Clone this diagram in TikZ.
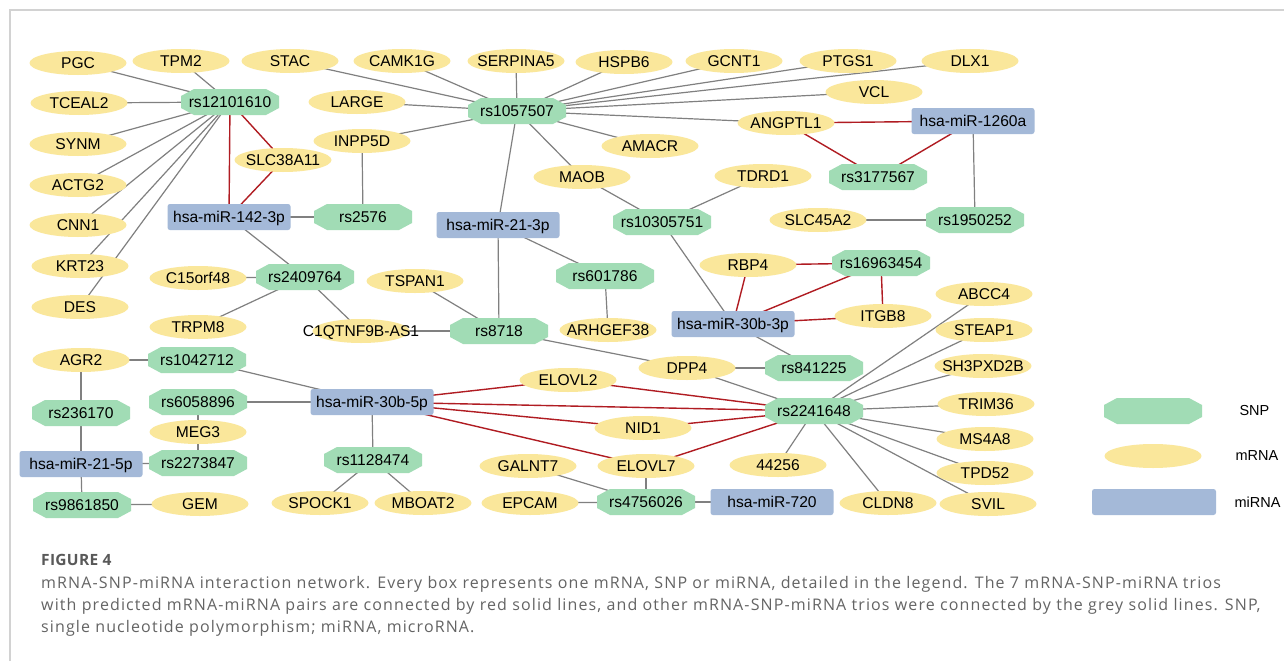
\documentclass[tikz,border=0pt]{standalone}
\usepackage{fontspec}
\setmainfont{Liberation Sans}
\newfontfamily\capfont[LetterSpace=7]{Open Sans}
\newfontfamily\figfont[LetterSpace=2]{Open Sans}
\usetikzlibrary{shapes.geometric,backgrounds}
\definecolor{mrnacol}{RGB}{250,231,155}
\definecolor{snpcol}{RGB}{161,220,181}
\definecolor{mircol}{RGB}{164,185,216}
\definecolor{greyline}{RGB}{128,128,128}
\definecolor{redline}{RGB}{176,28,34}
\definecolor{captext}{RGB}{100,100,100}
\definecolor{framecol}{RGB}{210,210,210}
\tikzset{
  lbl/.style={font=\fontsize{15.6}{18}\selectfont, text height=11pt, text depth=0pt},
  mrna/.style={lbl, ellipse, fill=mrnacol, minimum width=97pt, minimum height=24pt, inner xsep=-40pt, inner ysep=-4pt},
  snp/.style={lbl, rectangle, minimum width=98pt, minimum height=26pt, inner xsep=-40pt, inner ysep=-4pt,
    path picture={\fill[snpcol]
      ([xshift=13pt]path picture bounding box.north west) --
      ([xshift=-13pt]path picture bounding box.north east) --
      ([yshift=-7pt]path picture bounding box.north east) --
      ([yshift=7pt]path picture bounding box.south east) --
      ([xshift=-13pt]path picture bounding box.south east) --
      ([xshift=13pt]path picture bounding box.south west) --
      ([yshift=7pt]path picture bounding box.south west) --
      ([yshift=-7pt]path picture bounding box.north west) -- cycle;}},
  mirna/.style={lbl, rectangle, rounded corners=2.5pt, fill=mircol, minimum width=123pt, minimum height=26pt, inner xsep=-40pt, inner ysep=-4pt},
  gl/.style={draw=greyline, line width=1.2pt},
  rl/.style={draw=redline, line width=1.4pt},
  legtxt/.style={anchor=west, font=\fontsize{14.5}{17}\selectfont},
  captxt/.style={anchor=base west, inner sep=0pt, text=captext, font=\capfont\fontsize{16}{18}\selectfont}
}
\begin{document}
\begin{tikzpicture}[x=1pt,y=-1pt]
\useasboundingbox (0,0) rectangle (1284,661);
% mRNA nodes
\node[mrna] (PGC) at (78,63) {PGC};
\node[mrna] (TPM2) at (181,61) {TPM2};
\node[mrna] (STAC) at (290,61) {STAC};
\node[mrna] (CAMK1G) at (402,61) {CAMK1G};
\node[mrna] (SERPINA5) at (516,61) {SERPINA5};
\node[mrna] (HSPB6) at (624,62) {HSPB6};
\node[mrna] (GCNT1) at (734,61) {GCNT1};
\node[mrna] (PTGS1) at (848,61) {PTGS1};
\node[mrna] (DLX1) at (970,61) {DLX1};
\node[mrna] (VCL) at (874,92) {VCL};
\node[mrna] (TCEAL2) at (79,103) {TCEAL2};
\node[mrna] (SYNM) at (78,144) {SYNM};
\node[mrna] (ACTG2) at (78,185) {ACTG2};
\node[mrna] (CNN1) at (78,225) {CNN1};
\node[mrna] (KRT23) at (80,266) {KRT23};
\node[mrna] (DES) at (80,307) {DES};
\node[mrna] (LARGE) at (357,102) {LARGE};
\node[mrna] (INPP5D) at (362,141) {INPP5D};
\node[mrna] (SLC38A11) at (283,160) {SLC38A11};
\node[mrna] (AMACR) at (650,146) {AMACR};
\node[mrna] (ANGPTL1) at (786,123) {ANGPTL1};
\node[mrna] (MAOB) at (582,177) {MAOB};
\node[mrna] (TDRD1) at (763,176) {TDRD1};
\node[mrna] (SLC45A2) at (818,220) {SLC45A2};
\node[mrna] (RBP4) at (748,265) {RBP4};
\node[mrna] (ITGB8) at (883,316) {ITGB8};
\node[mrna] (DPP4) at (687,368) {DPP4};
\node[mrna] (ARHGEF38) at (608,330) {ARHGEF38};
\node[mrna] (TSPAN1) at (415,281) {TSPAN1};
\node[mrna] (C15orf48) at (198,278) {C15orf48};
\node[mrna] (TRPM8) at (198,327) {TRPM8};
\node[mrna] (C1QTNF9B) at (361,331) {C1QTNF9B-AS1};
\node[mrna] (AGR2) at (81,360) {AGR2};
\node[mrna] (MEG3) at (198,432) {MEG3};
\node[mrna] (GEM) at (200,504) {GEM};
\node[mrna] (SPOCK1) at (320,503) {SPOCK1};
\node[mrna] (MBOAT2) at (423,503) {MBOAT2};
\node[mrna] (ELOVL2) at (568,380) {ELOVL2};
\node[mrna] (NID1) at (643,428) {NID1};
\node[mrna] (ELOVL7) at (646,466) {ELOVL7};
\node[mrna] (n44256) at (778,465) {44256};
\node[mrna] (GALNT7) at (528,466) {GALNT7};
\node[mrna] (EPCAM) at (530,503) {EPCAM};
\node[mrna] (CLDN8) at (888,503) {CLDN8};
\node[mrna] (SVIL) at (988,504) {SVIL};
\node[mrna] (ABCC4) at (984,294) {ABCC4};
\node[mrna] (STEAP1) at (984,330) {STEAP1};
\node[mrna] (SH3PXD2B) at (983,366) {SH3PXD2B};
\node[mrna] (TRIM36) at (986,404) {TRIM36};
\node[mrna] (MS4A8) at (985,439) {MS4A8};
\node[mrna] (TPD52) at (985,473) {TPD52};
% SNP nodes
\node[snp] (rs12101610) at (230,102) {rs12101610};
\node[snp] (rs2576) at (363,217) {rs2576};
\node[snp] (rs1057507) at (517,111) {rs1057507};
\node[snp] (rs3177567) at (878,177) {rs3177567};
\node[snp] (rs10305751) at (662,222) {rs10305751};
\node[snp] (rs1950252) at (975,220) {rs1950252};
\node[snp] (rs16963454) at (881,263) {rs16963454};
\node[snp] (rs841225) at (814,368) {rs841225};
\node[snp] (rs601786) at (605,276) {rs601786};
\node[snp] (rs8718) at (499,331) {rs8718};
\node[snp] (rs2409764) at (305,277) {rs2409764};
\node[snp] (rs1042712) at (197,360) {rs1042712};
\node[snp] (rs6058896) at (198,402) {rs6058896};
\node[snp] (rs2273847) at (198,463) {rs2273847};
\node[snp] (rs236170) at (81,413) {rs236170};
\node[snp] (rs9861850) at (82,505) {rs9861850};
\node[snp] (rs1128474) at (373,460) {rs1128474};
\node[snp] (rs2241648) at (814,411) {rs2241648};
\node[snp] (rs4756026) at (646,502) {rs4756026};
% miRNA nodes
\node[mirna] (miR142) at (229,217) {hsa-miR-142-3p};
\node[mirna] (miR1260a) at (973,121) {hsa-miR-1260a};
\node[mirna] (miR213p) at (498,225) {hsa-miR-21-3p};
\node[mirna] (miR30b3p) at (733,324) {hsa-miR-30b-3p};
\node[mirna] (miR215p) at (81,464) {hsa-miR-21-5p};
\node[mirna] (miR30b5p) at (372,402) {hsa-miR-30b-5p};
\node[mirna] (miR720) at (772,502) {hsa-miR-720};
% legend
\node[snp] (legSNP) at (1153,411) {};
\node[mrna] (legmRNA) at (1153,456) {};
\node[mirna, minimum width=124pt] (legmiRNA) at (1154,502) {};
\node[legtxt] (legSNPt) at (1236,411) {SNP};
\node[legtxt] (legmRNAt) at (1232,456) {mRNA};
\node[legtxt] (legmiRNAt) at (1231,502) {miRNA};
% caption
\node[captxt, text=black!65, font=\figfont\bfseries\fontsize{15.5}{18}\selectfont] (fig) at (41,565) {FIGURE 4};
\node[captxt] (c1) at (41,588) {mRNA-SNP-miRNA interaction network. Every box represents one mRNA, SNP or miRNA, detailed in the legend. The 7 mRNA-SNP-miRNA trios};
\node[captxt] (c2) at (41,610) {with predicted mRNA-miRNA pairs are connected by red solid lines, and other mRNA-SNP-miRNA trios were connected by the grey solid lines. SNP,};
\node[captxt] (c3) at (41,632) {single nucleotide polymorphism; miRNA, microRNA.};
\begin{scope}[on background layer]
\fill[white] (0,0) rectangle (1284,661);
\draw[framecol, line width=1.5pt] (10,661) -- (10,10) -- (1284,10);
% rs12101610 edges
\foreach \t in {PGC,TPM2,TCEAL2,SYNM,ACTG2,CNN1,KRT23,DES}
  \draw[gl] (rs12101610.center) -- (\t.center);
\draw[rl] (rs12101610.center) -- (miR142.center);
\draw[rl] (rs12101610.center) -- (SLC38A11.center);
\draw[rl] (SLC38A11.center) -- (miR142.center);
\draw[gl] (miR142.center) -- (rs2576.center);
\draw[gl] (rs2576.center) -- (INPP5D.center);
\draw[gl] (miR142.center) -- (rs2409764.center);
\foreach \t in {C15orf48,TRPM8,C1QTNF9B}
  \draw[gl] (rs2409764.center) -- (\t.center);
\draw[gl] (C1QTNF9B.center) -- (rs8718.center);
\draw[gl] (TSPAN1.center) -- (rs8718.center);
\draw[gl] (miR213p.center) -- (rs8718.center);
\draw[gl] (miR213p.center) -- (rs601786.center);
\draw[gl] (rs601786.center) -- (ARHGEF38.center);
\draw[gl] (rs8718.center) -- (DPP4.center);
% rs1057507 edges
\foreach \t in {STAC,CAMK1G,SERPINA5,HSPB6,GCNT1,PTGS1,DLX1,VCL,LARGE,INPP5D,AMACR,ANGPTL1,MAOB,miR213p}
  \draw[gl] (rs1057507.center) -- (\t.center);
\draw[rl] (ANGPTL1.center) -- (miR1260a.center);
\draw[rl] (ANGPTL1.center) -- (rs3177567.center);
\draw[rl] (rs3177567.center) -- (miR1260a.center);
\draw[gl] (miR1260a.center) -- (rs1950252.center);
\draw[gl] (rs1950252.center) -- (SLC45A2.center);
\draw[gl] (MAOB.center) -- (rs10305751.center);
\draw[gl] (TDRD1.center) -- (rs10305751.center);
\draw[gl] (rs10305751.center) -- (miR30b3p.center);
\draw[rl] (RBP4.center) -- (rs16963454.center);
\draw[rl] (RBP4.center) -- (miR30b3p.center);
\draw[rl] (rs16963454.center) -- (miR30b3p.center);
\draw[rl] (rs16963454.center) -- (ITGB8.center);
\draw[rl] (ITGB8.center) -- (miR30b3p.center);
\draw[gl] (miR30b3p.center) -- (rs841225.center);
\draw[gl] (DPP4.center) -- (rs841225.center);
\draw[gl] (DPP4.center) -- (rs2241648.center);
% rs2241648 edges
\foreach \t in {ABCC4,STEAP1,SH3PXD2B,TRIM36,MS4A8,TPD52,SVIL,CLDN8,n44256}
  \draw[gl] (rs2241648.center) -- (\t.center);
\foreach \t in {ELOVL2,NID1,ELOVL7,miR30b5p}
  \draw[rl] (rs2241648.center) -- (\t.center);
\foreach \t in {ELOVL2,NID1,ELOVL7}
  \draw[rl] (miR30b5p.center) -- (\t.center);
\foreach \t in {rs1042712,rs6058896,rs1128474}
  \draw[gl] (miR30b5p.center) -- (\t.center);
\draw[gl] (rs1128474.center) -- (SPOCK1.center);
\draw[gl] (rs1128474.center) -- (MBOAT2.center);
\draw[gl] (rs1042712.center) -- (AGR2.center);
\draw[gl] (AGR2.center) -- (rs236170.center);
\draw[gl] (rs236170.center) -- (miR215p.center);
\draw[gl] (miR215p.center) -- (rs2273847.center);
\draw[gl] (miR215p.center) -- (rs9861850.center);
\draw[gl] (rs9861850.center) -- (GEM.center);
\draw[gl] (rs6058896.center) -- (MEG3.center);
\draw[gl] (MEG3.center) -- (rs2273847.center);
\draw[gl] (GALNT7.center) -- (rs4756026.center);
\draw[gl] (EPCAM.center) -- (rs4756026.center);
\draw[gl] (ELOVL7.center) -- (rs4756026.center);
\draw[gl] (rs4756026.center) -- (miR720.center);
\end{scope}
\end{tikzpicture}
\end{document}
